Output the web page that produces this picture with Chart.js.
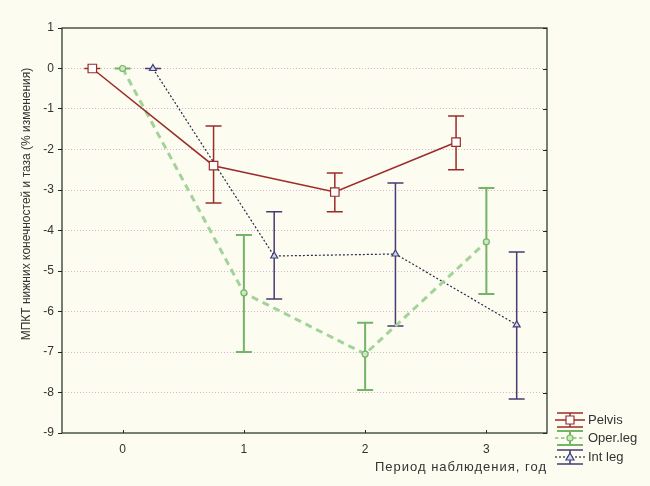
<!DOCTYPE html>
<html>
<head>
<meta charset="utf-8">
<script src="https://cdn.jsdelivr.net/npm/chart.js@4.4.1/dist/chart.umd.min.js"></script>
<style>
  html, body { margin: 0; padding: 0; background: #fcfcf0; }
  #wrap { width: 650px; height: 486px; }
</style>
</head>
<body>
<div id="wrap"><canvas id="chart" width="650" height="486"></canvas></div>
<script>
// --- data ---
const years = [0, 1, 2, 3];
const yTicks = [1, 0, -1, -2, -3, -4, -5, -6, -7, -8, -9];

const pelvisMean = [0, -2.4, -3.05, -1.82];
const pelvisLow  = [0, -3.32, -3.54, -2.5];
const pelvisHigh = [0, -1.42, -2.58, -1.17];

const operMean = [0, -5.54, -7.05, -4.28];
const operLow  = [0, -7.0, -7.94, -5.57];
const operHigh = [0, -4.11, -6.28, -2.95];

const intMean = [0, -4.63, -4.58, -6.33];
const intLow  = [0, -5.69, -6.36, -8.16];
const intHigh = [0, -3.54, -2.83, -4.53];

const seriesNames = ['Pelvis', 'Oper.leg', 'Int leg'];

const BG = '#fcfcf0';
const TEXT = '#333333';
const FONT = '"Liberation Sans", Arial, sans-serif';

// helper: points shifted sideways so the groups don't overlap
const toPoints = (mean, shift) => years.map((yr, i) => ({ x: yr + shift, y: mean[i] }));

const series = [
    { name: seriesNames[0], mean: pelvisMean, low: pelvisLow, high: pelvisHigh, shift: -0.25,
      line: '#9c2b2b', bar: '#9c2b2b', barWidth: 1.5, lineWidth: 1.5, dash: [],
      point: 'rect', pointFill: '#ffffff', pointSize: 6 },
    { name: seriesNames[1], mean: operMean, low: operLow, high: operHigh, shift: 0,
      line: '#a3d398', bar: '#74b466', barWidth: 2, lineWidth: 3, dash: [7, 5],
      point: 'circle', pointFill: '#cfe8c4', pointSize: 3 },
    { name: seriesNames[2], mean: intMean, low: intLow, high: intHigh, shift: 0.25,
      line: '#2a2a4a', bar: '#4b3a72', barWidth: 1.5, lineWidth: 1.2, dash: [2, 2],
      point: 'triangle', pointFill: '#bfe3f0', pointSize: 4 }
];

const datasets = series.map(s => ({
    label: s.name,
    data: toPoints(s.mean, s.shift),
    borderColor: s.line,
    borderWidth: s.lineWidth,
    borderDash: s.dash,
    tension: 0,
    fill: false,
    pointStyle: s.point,
    pointRadius: s.pointSize,
    pointBackgroundColor: s.pointFill,
    pointBorderColor: s.bar,
    pointBorderWidth: 1.2
}));

// --- error bars, background, frame, titles, legend ---
const extrasPlugin = {
    id: 'extras',
    beforeDraw(chart) {
        const ctx = chart.ctx;
        ctx.save();
        ctx.fillStyle = BG;
        ctx.fillRect(0, 0, chart.width, chart.height);
        ctx.restore();
    },
    beforeDatasetsDraw(chart) {
        const ctx = chart.ctx;
        const xs = chart.scales.x, ys = chart.scales.y;
        const cap = 8;
        ctx.save();
        series.forEach(s => {
            ctx.strokeStyle = s.bar;
            ctx.lineWidth = s.barWidth;
            ctx.setLineDash([]);
            years.forEach((yr, i) => {
                const px = xs.getPixelForValue(yr + s.shift);
                const top = ys.getPixelForValue(s.high[i]);
                const bot = ys.getPixelForValue(s.low[i]);
                ctx.beginPath();
                ctx.moveTo(px, top); ctx.lineTo(px, bot);
                ctx.moveTo(px - cap, top); ctx.lineTo(px + cap, top);
                ctx.moveTo(px - cap, bot); ctx.lineTo(px + cap, bot);
                ctx.stroke();
            });
        });
        ctx.restore();
    },
    afterDraw(chart) {
        const ctx = chart.ctx;
        const a = chart.chartArea;
        const xs = chart.scales.x, ys = chart.scales.y;
        ctx.save();
        // frame
        ctx.strokeStyle = '#1e2a1e';
        ctx.lineWidth = 1.2;
        ctx.setLineDash([]);
        ctx.strokeRect(a.left, a.top, a.right - a.left, a.bottom - a.top);
        // inner ticks on the right side
        ctx.lineWidth = 1;
        yTicks.forEach(v => {
            const py = Math.round(ys.getPixelForValue(v)) + 0.5;
            ctx.beginPath();
            ctx.moveTo(a.right - 4, py); ctx.lineTo(a.right, py);
            ctx.stroke();
        });
        // inner ticks on the bottom
        years.forEach(v => {
            const px = Math.round(xs.getPixelForValue(v)) + 0.5;
            ctx.beginPath();
            ctx.moveTo(px, a.bottom); ctx.lineTo(px, a.bottom - 3);
            ctx.stroke();
        });

        // axis titles
        ctx.fillStyle = TEXT;
        ctx.font = '12px ' + FONT;
        ctx.save();
        ctx.translate(27, 204);
        ctx.rotate(-Math.PI / 2);
        ctx.textAlign = 'center';
        ctx.textBaseline = 'middle';
        ctx.fillText('МПКТ нижних конечностей и таза (% изменения)', 0, 0);
        ctx.restore();

        ctx.save();
        ctx.font = '13px ' + FONT;
        ctx.letterSpacing = '1px';
        ctx.textAlign = 'right';
        ctx.textBaseline = 'middle';
        ctx.fillText('Период наблюдения, год', a.right, 467);
        ctx.restore();

        // legend
        const lx = 557, lw = 26;
        const rows = [420, 438, 457];
        series.forEach((s, i) => {
            const cy = rows[i];
            const cx = lx + lw / 2;
            ctx.setLineDash([]);
            ctx.strokeStyle = s.bar;
            ctx.lineWidth = s.barWidth;
            ctx.beginPath();
            ctx.moveTo(lx, cy - 7); ctx.lineTo(lx + lw, cy - 7);
            ctx.moveTo(lx, cy + 7); ctx.lineTo(lx + lw, cy + 7);
            ctx.moveTo(cx, cy - 7); ctx.lineTo(cx, cy + 7);
            ctx.stroke();
            ctx.strokeStyle = s.line;
            ctx.lineWidth = Math.min(s.lineWidth, 2);
            ctx.setLineDash(s.dash.length ? s.dash.map(d => Math.max(2, d / 2)) : []);
            ctx.beginPath();
            ctx.moveTo(lx - 2, cy); ctx.lineTo(lx + lw + 2, cy);
            ctx.stroke();
            ctx.setLineDash([]);
            ctx.fillStyle = s.pointFill;
            ctx.strokeStyle = s.bar;
            ctx.lineWidth = 1.2;
            ctx.beginPath();
            if (s.point === 'rect') {
                ctx.rect(cx - 4, cy - 4, 8, 8);
            } else if (s.point === 'circle') {
                ctx.arc(cx, cy, 3, 0, Math.PI * 2);
            } else {
                ctx.moveTo(cx, cy - 4); ctx.lineTo(cx + 4, cy + 3); ctx.lineTo(cx - 4, cy + 3); ctx.closePath();
            }
            ctx.fill();
            ctx.stroke();
            ctx.fillStyle = TEXT;
            ctx.font = '13px ' + FONT;
            ctx.textAlign = 'left';
            ctx.textBaseline = 'middle';
            ctx.fillText(s.name, lx + lw + 5, cy);
        });
        ctx.restore();
    }
};

new Chart(document.getElementById('chart'), {
    type: 'line',
    data: { datasets: datasets },
    options: {
        responsive: false,
        animation: false,
        layout: { padding: { top: 28, right: 103, left: 0, bottom: 0 } },
        plugins: {
            legend: { display: false },
            tooltip: { enabled: false }
        },
        scales: {
            x: {
                type: 'linear',
                min: -0.5,
                max: 3.5,
                afterBuildTicks: scale => { scale.ticks = years.map(v => ({ value: v })); },
                afterFit: scale => { scale.height = 53; },
                grid: { display: false, drawTicks: false },
                border: { display: false },
                ticks: {
                    color: TEXT,
                    padding: 9,
                    font: { family: FONT, size: 12 }
                }
            },
            y: {
                min: -9,
                max: 1,
                afterBuildTicks: scale => { scale.ticks = yTicks.map(v => ({ value: v })); },
                afterFit: scale => { scale.width = 62; },
                border: { display: false, dash: [1, 2] },
                grid: {
                    color: ctx => (ctx.tick && (ctx.tick.value === 1 || ctx.tick.value === -9)) ? 'rgba(0,0,0,0)' : '#d9b3cf',
                    lineWidth: 1,
                    tickLength: 4,
                    tickColor: '#1e2a1e',
                    drawTicks: true
                },
                ticks: {
                    color: TEXT,
                    padding: 4,
                    font: { family: FONT, size: 12 }
                }
            }
        }
    },
    plugins: [extrasPlugin]
});
</script>
</body>
</html>
